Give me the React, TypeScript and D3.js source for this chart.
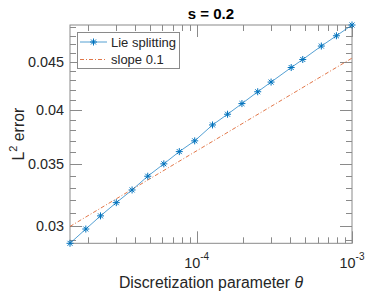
import React, { useEffect, useRef } from "react";
import * as d3 from "d3";

// values
const thetas = [
  1.528e-5, 1.932e-5, 2.402e-5, 3.035e-5, 3.836e-5, 4.84e-5, 6.143e-5, 7.727e-5,
  9.707e-5, 1.264e-4, 1.58e-4, 1.956e-4, 2.471e-4, 3.013e-4, 4.059e-4, 4.818e-4,
  6.347e-4, 7.938e-4, 1e-3,
];
const lieErrors = [
  0.02878, 0.02981, 0.03079, 0.03181, 0.03282, 0.03395, 0.035, 0.03607, 0.03704,
  0.03852, 0.03955, 0.0406, 0.0418, 0.04281, 0.04437, 0.04526, 0.04678, 0.04798,
  0.04927,
];
const slopeThetas = [1.528e-5, 1e-3];
const slopeErrors = [0.03, 0.04541];

const xMajorTicks = [1e-4, 1e-3];
const xMajorExps = ["-4", "-3"];
const yMajorTicks = [0.03, 0.035, 0.04, 0.045];
const yTickLabels = ["0.03", "0.035", "0.04", "0.045"];
const legendLabels = ["Lie splitting", "slope 0.1"];

const W = 389;
const H = 292;
const FONT = "'Liberation Sans', Arial, Helvetica, sans-serif";
const BLUE = "#0072BD";
const ORANGE = "#D95319";
const AXIS = "#8a8a8a";
const TEXT = "#262626";

export default function App() {
  const ref = useRef<SVGSVGElement | null>(null);

  useEffect(() => {
    const svg = d3.select(ref.current);
    svg.selectAll("*").remove();

    const m = { left: 70, right: 352, top: 25, bottom: 243.3 };

    const x = d3
      .scaleLog()
      .domain(d3.extent(thetas) as [number, number])
      .range([m.left, m.right]);
    const y = d3
      .scaleLog()
      .domain(d3.extent(lieErrors) as [number, number])
      .range([m.bottom, m.top]);

    const [x0, x1] = x.domain();
    const xMinor = [2, 3, 4, 5, 6, 7, 8, 9]
      .flatMap((k) => [k * 1e-5, k * 1e-4])
      .filter((v) => v >= x0 && v <= x1);
    const [y0, y1] = y.domain();
    const yMinor = d3
      .range(29, 50)
      .map((k) => k / 1000)
      .filter((v) => v >= y0 && v <= y1 && !yMajorTicks.some((t) => Math.abs(t - v) < 1e-9));

    const g = svg.append("g");
    const majorLen = 12;
    const minorLen = 6;

    // ticks (inward, mirrored on top / right)
    const ticks = g.append("g").attr("stroke", AXIS).attr("stroke-width", 1);
    const xt = (v: number, len: number) => {
      const px = Math.round(x(v)) + 0.5;
      ticks.append("line").attr("x1", px).attr("x2", px).attr("y1", m.bottom).attr("y2", m.bottom - len);
      ticks.append("line").attr("x1", px).attr("x2", px).attr("y1", m.top).attr("y2", m.top + len);
    };
    const yt = (v: number, len: number) => {
      const py = Math.round(y(v)) + 0.5;
      ticks.append("line").attr("y1", py).attr("y2", py).attr("x1", m.left).attr("x2", m.left + len);
      ticks.append("line").attr("y1", py).attr("y2", py).attr("x1", m.right).attr("x2", m.right - len);
    };
    xMinor.forEach((v) => xt(v, minorLen));
    xMajorTicks.forEach((v) => xt(v, majorLen));
    yMinor.forEach((v) => yt(v, minorLen));
    yMajorTicks.forEach((v) => yt(v, majorLen));

    g.append("rect")
      .attr("x", m.left)
      .attr("y", m.top)
      .attr("width", m.right - m.left)
      .attr("height", m.bottom - m.top)
      .attr("fill", "none")
      .attr("stroke", AXIS)
      .attr("stroke-width", 1);

    // tick labels
    yMajorTicks.forEach((v, i) => {
      g.append("text")
        .attr("x", 64)
        .attr("y", y(v) + 5)
        .attr("text-anchor", "end")
        .attr("font-family", FONT)
        .attr("font-size", 14.4)
        .attr("fill", TEXT)
        .text(yTickLabels[i]);
    });
    xMajorTicks.forEach((v, i) => {
      const t = g
        .append("text")
        .attr("x", x(v))
        .attr("y", 267.7)
        .attr("text-anchor", "middle")
        .attr("font-family", FONT)
        .attr("font-size", 14.4)
        .attr("fill", TEXT);
      t.append("tspan").text("10");
      t.append("tspan").attr("dy", -7.5).attr("font-size", 10).text(xMajorExps[i]);
    });

    // series
    const line = d3
      .line<[number, number]>()
      .x((d) => x(d[0]))
      .y((d) => y(d[1]));

    const slopeData = slopeThetas.map((t, i) => [t, slopeErrors[i]] as [number, number]);
    g.append("path")
      .datum(slopeData)
      .attr("fill", "none")
      .attr("stroke", ORANGE)
      .attr("stroke-width", 0.8)
      .attr("stroke-dasharray", "4,2,1,2")
      .attr("d", line);

    const lieData = thetas.map((t, i) => [t, lieErrors[i]] as [number, number]);
    g.append("path")
      .datum(lieData)
      .attr("fill", "none")
      .attr("stroke", BLUE)
      .attr("stroke-opacity", 0.75)
      .attr("stroke-width", 0.9)
      .attr("d", line);

    const r = 3.5;
    const a = r * 0.707;
    const star = `M${-r},0L${r},0M0,${-r}L0,${r}M${-a},${-a}L${a},${a}M${-a},${a}L${a},${-a}`;
    g.append("g")
      .selectAll("path")
      .data(lieData)
      .join("path")
      .attr("transform", (d) => `translate(${x(d[0])},${y(d[1])})`)
      .attr("d", star)
      .attr("fill", "none")
      .attr("stroke", BLUE)
      .attr("stroke-width", 1);

    // legend
    const lg = g.append("g");
    lg.append("rect")
      .attr("x", 77.5)
      .attr("y", 32.5)
      .attr("width", 102)
      .attr("height", 36)
      .attr("fill", "white")
      .attr("stroke", AXIS)
      .attr("stroke-width", 1);
    const rowsY = [42, 59.5];
    lg.append("line")
      .attr("x1", 80)
      .attr("x2", 107)
      .attr("y1", rowsY[0])
      .attr("y2", rowsY[0])
      .attr("stroke", BLUE)
      .attr("stroke-opacity", 0.75)
      .attr("stroke-width", 0.9);
    lg.append("path")
      .attr("transform", `translate(93.5,${rowsY[0]})`)
      .attr("d", star)
      .attr("fill", "none")
      .attr("stroke", BLUE);
    lg.append("line")
      .attr("x1", 80)
      .attr("x2", 107)
      .attr("y1", rowsY[1])
      .attr("y2", rowsY[1])
      .attr("stroke", ORANGE)
      .attr("stroke-width", 0.8)
      .attr("stroke-dasharray", "4,2,1,2");
    legendLabels.forEach((lab, i) => {
      lg.append("text")
        .attr("x", 111)
        .attr("y", rowsY[i] + 4.6)
        .attr("font-family", FONT)
        .attr("font-size", 13)
        .attr("fill", TEXT)
        .text(lab);
    });

    // title and axis labels
    g.append("text")
      .attr("x", (m.left + m.right) / 2)
      .attr("y", 19.3)
      .attr("text-anchor", "middle")
      .attr("font-family", FONT)
      .attr("font-size", 15)
      .attr("font-weight", "bold")
      .attr("fill", "#000")
      .text("s = 0.2");

    const xl = g
      .append("text")
      .attr("x", (m.left + m.right) / 2)
      .attr("y", 288)
      .attr("text-anchor", "middle")
      .attr("font-family", FONT)
      .attr("font-size", 15.8)
      .attr("fill", TEXT);
    xl.append("tspan").text("Discretization parameter ");
    xl.append("tspan").attr("font-style", "italic").text("θ");

    const yl = g
      .append("text")
      .attr("transform", `translate(24,${(m.top + m.bottom) / 2}) rotate(-90)`)
      .attr("text-anchor", "middle")
      .attr("font-family", FONT)
      .attr("font-size", 15.8)
      .attr("fill", TEXT);
    yl.append("tspan").text("L");
    yl.append("tspan").attr("dy", -7).attr("font-size", 11).text("2");
    yl.append("tspan").attr("dy", 7).text(" error");
  }, []);

  return (
    <svg
      ref={ref}
      width={W}
      height={H}
      style={{ position: "absolute", left: 0, top: 0, background: "white" }}
    />
  );
}
